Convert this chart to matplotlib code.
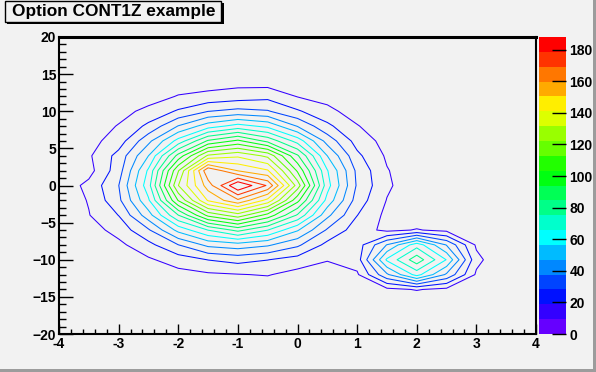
import matplotlib

matplotlib.use("Agg")
import matplotlib.pyplot as plt
import numpy as np
from matplotlib.colorbar import ColorbarBase
from matplotlib.colors import BoundaryNorm, ListedColormap
from matplotlib.patches import Rectangle
from matplotlib.ticker import MultipleLocator

TITLE = "Option CONT1Z example"

# bin centres of the (coarsened) 2-D histogram
X_CENTRES = [-4.0, -3.5, -3.0, -2.5, -2.0, -1.5, -1.0, -0.5, 0.0, 0.5, 1.0, 1.5, 2.0, 2.5, 3.0, 3.5, 4.0]
Y_CENTRES = [-20, -18, -16, -14, -12, -10, -8, -6, -4, -2, 0, 2, 4, 6, 8, 10, 12, 14, 16, 18, 20]

# counts, one row per y centre (bottom to top)
ROW_YM20 = [0, 0, 0, 0, 0, 0, 0, 0, 0, 0, 0, 0, 0, 0, 0, 0, 0]
ROW_YM18 = [0, 0, 0, 0, 0, 0, 0, 0, 0, 0, 0, 0, 0, 0, 0, 0, 0]
ROW_YM16 = [0, 0, 0, 0, 0, 1, 1, 1, 0, 0, 0, 1, 1, 1, 0, 0, 0]
ROW_YM14 = [0, 0, 1, 1, 2, 3, 3, 3, 2, 1, 2, 7, 10, 7, 2, 0, 0]
ROW_YM12 = [0, 1, 2, 3, 6, 8, 9, 10, 6, 4, 8, 36, 60, 36, 8, 1, 0]
ROW_YM10 = [0, 1, 4, 8, 14, 19, 22, 19, 15, 10, 14, 58, 81, 56, 12, 1, 0]
ROW_YM8 = [1, 3, 7, 16, 28, 40, 43, 39, 30, 16, 14, 38, 62, 37, 8, 1, 0]
ROW_YM6 = [1, 5, 13, 27, 50, 66, 78, 66, 48, 27, 14, 7, 10, 7, 2, 0, 0]
ROW_YM4 = [2, 9, 19, 43, 75, 106, 118, 100, 74, 40, 19, 7, 3, 1, 0, 0, 0]
ROW_YM2 = [3, 10, 26, 55, 104, 142, 158, 138, 97, 53, 24, 9, 3, 0, 0, 0, 0]
ROW_Y0 = [3, 12, 28, 62, 122, 155, 188, 168, 118, 60, 27, 11, 3, 1, 0, 0, 0]
ROW_Y2 = [3, 6, 24, 58, 112, 168, 150, 142, 102, 57, 26, 10, 3, 0, 0, 0, 0]
ROW_Y4 = [2, 8, 22, 47, 88, 124, 130, 120, 86, 47, 21, 8, 2, 0, 0, 0, 0]
ROW_Y6 = [2, 6, 14, 35, 60, 86, 96, 82, 62, 34, 15, 6, 2, 0, 0, 0, 0]
ROW_Y8 = [1, 4, 10, 21, 38, 52, 60, 54, 37, 21, 10, 3, 1, 0, 0, 0, 0]
ROW_Y10 = [1, 2, 6, 12, 20, 28, 31, 29, 20, 12, 5, 2, 0, 0, 0, 0, 0]
ROW_Y12 = [0, 1, 2, 5, 10, 12, 14, 16, 9, 6, 2, 1, 0, 0, 0, 0, 0]
ROW_Y14 = [0, 0, 1, 2, 4, 5, 6, 5, 4, 2, 1, 0, 0, 0, 0, 0, 0]
ROW_Y16 = [0, 0, 0, 1, 1, 2, 2, 2, 1, 1, 0, 0, 0, 0, 0, 0, 0]
ROW_Y18 = [0, 0, 0, 0, 0, 0, 0, 0, 0, 0, 0, 0, 0, 0, 0, 0, 0]
ROW_Y20 = [0, 0, 0, 0, 0, 0, 0, 0, 0, 0, 0, 0, 0, 0, 0, 0, 0]

Z_MAX = 188.0
N_LEVELS = 20
CBAR_TICKS = [0, 20, 40, 60, 80, 100, 120, 140, 160, 180]

# ROOT-style rainbow palette, one colour per contour band (bottom to top)
PALETTE = [
    "#6600ff", "#3300ff", "#0011ff", "#0044ff", "#0088ff",
    "#00bbff", "#00ffff", "#00ffcc", "#00ff88", "#00ff55",
    "#00ff11", "#22ff00", "#66ff00", "#99ff00", "#ddff00",
    "#ffee00", "#ffaa00", "#ff7700", "#ff3300", "#ff0000",
]

BG = "#f2f2f2"
W, H = 596, 372


def fx(px: float) -> float:
    return px / W


def fy(py: float) -> float:
    return 1 - py / H


def main() -> None:
    plt.rcParams.update(
        {
            "font.family": ["Liberation Sans", "DejaVu Sans"],
            "font.weight": "bold",
            "font.size": 10,
        }
    )

    rows = [
        ROW_YM20, ROW_YM18, ROW_YM16, ROW_YM14, ROW_YM12, ROW_YM10, ROW_YM8,
        ROW_YM6, ROW_YM4, ROW_YM2, ROW_Y0, ROW_Y2, ROW_Y4, ROW_Y6, ROW_Y8,
        ROW_Y10, ROW_Y12, ROW_Y14, ROW_Y16, ROW_Y18, ROW_Y20,
    ]
    z = np.array(rows, dtype=float)
    x = np.array(X_CENTRES)
    y = np.array(Y_CENTRES, dtype=float)
    levels = np.linspace(0, Z_MAX, N_LEVELS + 1)

    fig = plt.figure(figsize=(W / 100, H / 100), dpi=100, facecolor=BG)

    ax = fig.add_axes([fx(59), fy(334), fx(536) - fx(59), fy(37) - fy(334)], facecolor=BG)
    ax.contour(x, y, z, levels=levels[1:N_LEVELS], colors=PALETTE[1:N_LEVELS], linewidths=0.75)
    ax.set_xlim(-4, 4)
    ax.set_ylim(-20, 20)
    ax.xaxis.set_major_locator(MultipleLocator(1))
    ax.xaxis.set_minor_locator(MultipleLocator(0.2))
    ax.yaxis.set_major_locator(MultipleLocator(5))
    ax.yaxis.set_minor_locator(MultipleLocator(1))
    ax.tick_params(axis="both", which="both", direction="in", colors="black", width=1.0, labelsize=10)
    ax.tick_params(axis="x", which="major", length=7.2, pad=2.5)
    ax.tick_params(axis="x", which="minor", length=3.3)
    ax.tick_params(axis="y", which="major", length=10, pad=2)
    ax.tick_params(axis="y", which="minor", length=5)
    ax.set_xticklabels([f"{v:g}" for v in ax.get_xticks()])
    for spine in ax.spines.values():
        spine.set_linewidth(1.5)
    ax.spines["top"].set_linewidth(2.2)

    cax = fig.add_axes([fx(539), fy(334), fx(566) - fx(539), fy(37) - fy(334)])
    cbar = ColorbarBase(
        cax,
        cmap=ListedColormap(PALETTE),
        norm=BoundaryNorm(levels, N_LEVELS),
        boundaries=levels,
        ticks=CBAR_TICKS,
        orientation="vertical",
    )
    cbar.outline.set_visible(False)
    cax.set_ylim(0, Z_MAX)
    cax.tick_params(axis="y", which="both", direction="in", length=10, width=1.0, pad=2.5, labelsize=10, right=True, left=False)
    cax.minorticks_off()
    cax.set_yticklabels([str(v) for v in CBAR_TICKS])

    # canvas bevel on the right and bottom
    fig.patches.append(Rectangle((fx(593), 0), fx(3), 1, transform=fig.transFigure, facecolor="#9c9c9c", edgecolor="none"))
    fig.patches.append(Rectangle((0, 0), 1, fy(369), transform=fig.transFigure, facecolor="#9c9c9c", edgecolor="none"))

    # title box with shadow
    fig.patches.append(
        Rectangle((fx(7), fy(24)), fx(217), fy(3) - fy(24), transform=fig.transFigure, facecolor="black", edgecolor="none")
    )
    fig.patches.append(
        Rectangle((fx(5), fy(21.5)), fx(216), fy(1) - fy(21.5), transform=fig.transFigure, facecolor=BG, edgecolor="black", linewidth=1.0)
    )
    fig.text(fx(114), fy(11.5), TITLE, ha="center", va="center", fontsize=12.4, fontweight="bold")

    fig.savefig("out.png", dpi=100, facecolor=BG)
    plt.close(fig)


if __name__ == "__main__":
    main()
